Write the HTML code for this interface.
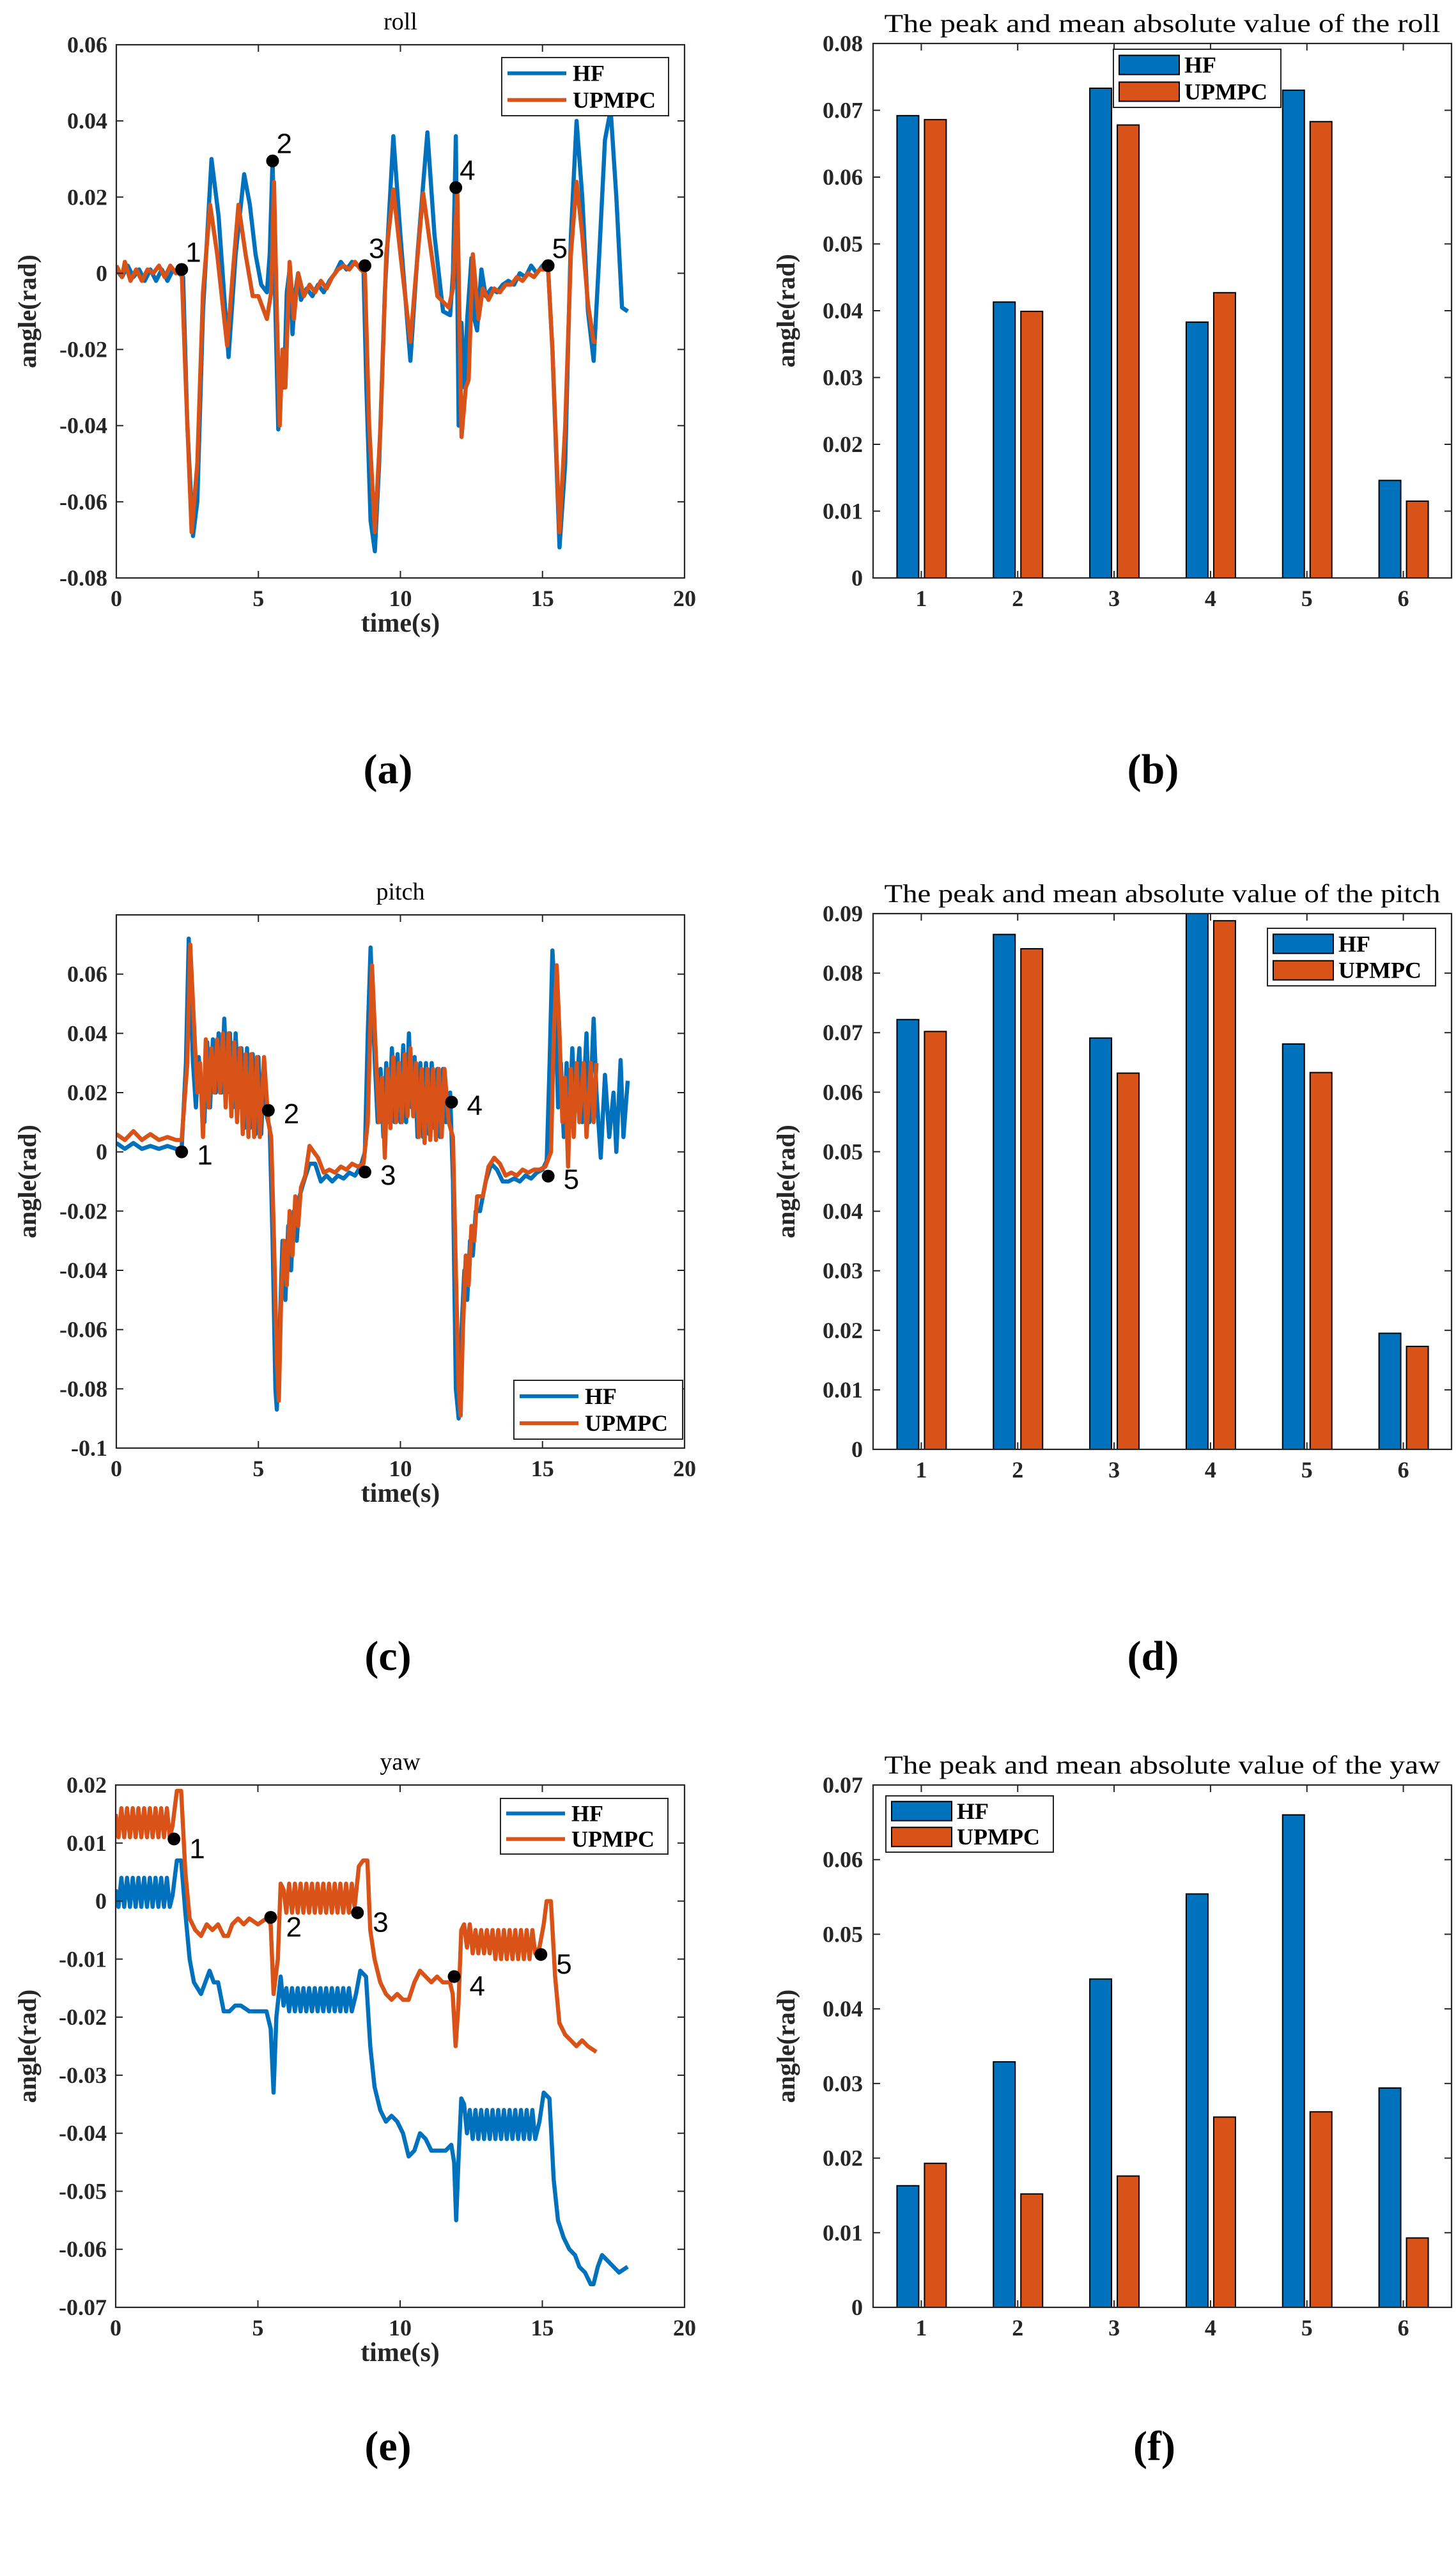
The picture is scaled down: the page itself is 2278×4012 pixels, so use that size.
<!DOCTYPE html>
<html><head><meta charset="utf-8"><style>
html,body{margin:0;padding:0;background:#fff;}
svg{display:block;}
</style></head><body>
<svg id="fig" width="2278" height="4012" viewBox="0 0 2278 4012" xmlns="http://www.w3.org/2000/svg"></svg>
<script>
// ---------- DATA ----------
const barCategories = ["1","2","3","4","5","6"];
const rollBarHF = [0.0692,0.0413,0.0733,0.0383,0.0730,0.0146];
const rollBarUP = [0.0686,0.0399,0.0678,0.0427,0.0683,0.0115];
const pitchBarHF = [0.0722,0.0865,0.0691,0.0900,0.0681,0.0195];
const pitchBarUP = [0.0702,0.0841,0.0632,0.0888,0.0633,0.0173];
const yawBarHF = [0.0163,0.0329,0.0440,0.0554,0.0660,0.0294];
const yawBarUP = [0.0193,0.0152,0.0176,0.0255,0.0262,0.0093];

const timeTicks = [0,5,10,15,20];
const rollTicks = [-0.08,-0.06,-0.04,-0.02,0,0.02,0.04,0.06];
const rollTickLabels = ["-0.08","-0.06","-0.04","-0.02","0","0.02","0.04","0.06"];
const pitchTicks = [-0.1,-0.08,-0.06,-0.04,-0.02,0,0.02,0.04,0.06];
const pitchTickLabels = ["-0.1","-0.08","-0.06","-0.04","-0.02","0","0.02","0.04","0.06"];
const yawTicks = [-0.07,-0.06,-0.05,-0.04,-0.03,-0.02,-0.01,0,0.01,0.02];
const yawTickLabels = ["-0.07","-0.06","-0.05","-0.04","-0.03","-0.02","-0.01","0","0.01","0.02"];
const rollBarTicks = [0,0.01,0.02,0.03,0.04,0.05,0.06,0.07,0.08];
const rollBarTickLabels = ["0","0.01","0.02","0.03","0.04","0.05","0.06","0.07","0.08"];
const pitchBarTicks = [0,0.01,0.02,0.03,0.04,0.05,0.06,0.07,0.08,0.09];
const pitchBarTickLabels = ["0","0.01","0.02","0.03","0.04","0.05","0.06","0.07","0.08","0.09"];
const yawBarTicks = [0,0.01,0.02,0.03,0.04,0.05,0.06,0.07];
const yawBarTickLabels = ["0","0.01","0.02","0.03","0.04","0.05","0.06","0.07"];

const rollHF = [[0,.001],[.2,-.001],[.4,.002],[.6,-.001],[.8,.001],[1,-.002],[1.2,.001],[1.4,-.002],[1.6,.001],[1.8,-.002],[2,.001],[2.2,0],[2.35,-.001],[2.5,-.04],[2.7,-.069],[2.85,-.06],[3.05,-.01],[3.35,.03],[3.6,.015],[3.95,-.022],[4.2,.005],[4.5,.026],[4.7,.018],[4.9,.005],[5.1,-.003],[5.3,-.005],[5.4,.005],[5.5,.03],[5.6,-.01],[5.7,-.041],[5.8,-.025],[5.9,-.03],[6,-.005],[6.1,.001],[6.2,-.016],[6.3,-.005],[6.4,0],[6.5,-.007],[6.7,-.004],[6.9,-.006],[7.1,-.003],[7.3,-.005],[7.5,-.002],[7.7,0],[7.9,.003],[8.1,.001],[8.3,.003],[8.5,.002],[8.7,.001],[8.8,-.03],[8.95,-.065],[9.1,-.073],[9.25,-.05],[9.45,-.005],[9.75,.036],[10,.01],[10.35,-.023],[10.6,.005],[10.95,.037],[11.2,.01],[11.5,-.01],[11.75,-.011],[11.85,0],[11.95,.036],[12.05,-.04],[12.15,-.013],[12.25,-.03],[12.35,-.012],[12.5,.004],[12.6,-.012],[12.7,-.015],[12.85,.001],[13,-.006],[13.2,-.004],[13.4,-.005],[13.6,-.003],[13.8,-.002],[14,-.003],[14.2,0],[14.4,-.001],[14.6,.002],[14.8,0],[15,.002],[15.2,.001],[15.35,-.02],[15.6,-.072],[15.8,-.05],[16,.01],[16.2,.04],[16.4,.02],[16.6,-.01],[16.8,-.023],[17,.005],[17.2,.035],[17.4,.043],[17.6,.02],[17.8,-.009],[18,-.01]];
const rollUP = [[0,.002],[.2,-.001],[.3,.003],[.5,-.002],[.7,.001],[.9,-.002],[1.1,.001],[1.3,0],[1.5,.002],[1.7,-.001],[1.9,.002],[2.1,0],[2.3,.001],[2.45,-.03],[2.65,-.068],[2.85,-.05],[3.05,-.005],[3.3,.018],[3.55,.005],[3.9,-.019],[4.1,0],[4.3,.018],[4.55,.005],[4.8,-.006],[5,-.006],[5.3,-.012],[5.45,-.005],[5.55,.024],[5.65,-.01],[5.75,-.04],[5.85,-.02],[5.95,-.03],[6.1,.003],[6.25,-.012],[6.4,0],[6.6,-.006],[6.8,-.003],[7,-.005],[7.2,-.002],[7.4,-.004],[7.6,-.001],[7.8,.001],[8,.002],[8.2,.001],[8.4,.003],[8.6,.001],[8.75,0],[8.9,-.04],[9.1,-.068],[9.3,-.04],[9.5,.005],[9.75,.022],[10,.005],[10.35,-.018],[10.55,0],[10.8,.021],[11,.01],[11.3,-.006],[11.7,-.009],[11.85,-.004],[12,.022],[12.15,-.043],[12.3,-.03],[12.4,-.028],[12.55,.005],[12.75,-.012],[12.9,-.004],[13.1,-.007],[13.3,-.004],[13.5,-.005],[13.7,-.003],[13.9,-.003],[14.1,-.001],[14.3,-.002],[14.5,0],[14.7,-.001],[14.9,.001],[15.2,.001],[15.35,-.02],[15.6,-.068],[15.8,-.04],[16,.005],[16.2,.024],[16.4,.01],[16.6,-.008],[16.8,-.018],[16.9,-.018]];
const rollMarks = [[2.3,.001],[5.5,.0295],[8.75,.002],[11.95,.0225],[15.2,.002]];

const pitchHF = [[0,.003],[.3,.001],[.6,.003],[.9,.001],[1.2,.002],[1.5,.001],[1.8,.002],[2.1,.001],[2.3,.001],[2.45,.03],[2.55,.072],[2.7,.03],[2.8,.015],[2.9,.032],[3.0,.02],[3.1,.01],[3.2,.037],[3.3,.015],[3.4,.038],[3.5,.02],[3.6,.04],[3.7,.02],[3.8,.045],[3.9,.02],[4.0,.04],[4.1,.015],[4.2,.04],[4.3,.015],[4.4,.035],[4.5,.008],[4.6,.035],[4.7,.008],[4.8,.033],[4.9,.006],[5.0,.032],[5.1,.006],[5.2,.03],[5.3,.012],[5.4,.008],[5.5,-.03],[5.6,-.08],[5.65,-.087],[5.75,-.06],[5.85,-.03],[5.95,-.05],[6.05,-.025],[6.15,-.04],[6.25,-.02],[6.35,-.03],[6.45,-.015],[6.6,-.01],[6.8,-.004],[7.0,-.004],[7.2,-.01],[7.4,-.008],[7.6,-.01],[7.8,-.008],[8.0,-.009],[8.2,-.007],[8.4,-.008],[8.6,-.005],[8.75,0],[8.85,.04],[8.95,.069],[9.1,.03],[9.2,.01],[9.3,.028],[9.4,.005],[9.5,.03],[9.6,.01],[9.7,.035],[9.8,.01],[9.9,.033],[10.0,.01],[10.1,.036],[10.2,.01],[10.3,.04],[10.4,.015],[10.5,.032],[10.6,.005],[10.7,.03],[10.8,.005],[10.9,.03],[11.0,.006],[11.1,.03],[11.2,.008],[11.3,.028],[11.4,.005],[11.5,.028],[11.6,.01],[11.75,.02],[11.85,-.01],[11.95,-.08],[12.05,-.09],[12.15,-.06],[12.25,-.04],[12.35,-.05],[12.45,-.03],[12.55,-.035],[12.65,-.02],[12.8,-.02],[13.0,-.01],[13.2,-.004],[13.4,-.006],[13.6,-.01],[13.8,-.01],[14.0,-.009],[14.2,-.01],[14.4,-.008],[14.6,-.009],[14.8,-.007],[15.0,-.006],[15.15,-.003],[15.25,.03],[15.35,.068],[15.45,.05],[15.55,.015],[15.65,.03],[15.75,.005],[15.85,.03],[15.95,.01],[16.05,.035],[16.15,.015],[16.3,.035],[16.4,.01],[16.55,.04],[16.65,.01],[16.8,.045],[16.9,.02],[17.05,-.002],[17.2,.026],[17.35,.005],[17.5,.02],[17.6,0],[17.75,.031],[17.85,.005],[18,.024]];
const pitchUP = [[0,.006],[.3,.004],[.6,.007],[.9,.004],[1.2,.006],[1.5,.004],[1.8,.005],[2.1,.004],[2.3,.004],[2.5,.03],[2.6,.07],[2.75,.04],[2.85,.02],[2.95,.03],[3.05,.005],[3.15,.038],[3.25,.015],[3.35,.035],[3.45,.02],[3.55,.038],[3.65,.02],[3.75,.04],[3.85,.015],[3.95,.04],[4.05,.012],[4.15,.037],[4.25,.01],[4.35,.035],[4.45,.006],[4.55,.033],[4.65,.005],[4.75,.033],[4.85,.005],[4.95,.032],[5.05,.005],[5.2,.032],[5.35,.01],[5.45,.005],[5.55,-.03],[5.65,-.07],[5.72,-.084],[5.8,-.05],[5.9,-.03],[6.0,-.045],[6.1,-.02],[6.2,-.035],[6.3,-.015],[6.4,-.025],[6.5,-.012],[6.65,-.008],[6.8,.002],[6.95,0],[7.1,-.002],[7.3,-.007],[7.5,-.006],[7.7,-.007],[7.9,-.005],[8.1,-.006],[8.3,-.004],[8.5,-.005],[8.7,-.004],[8.85,.01],[9.0,.063],[9.15,.03],[9.25,.01],[9.35,.025],[9.45,-.002],[9.55,.028],[9.65,.008],[9.75,.032],[9.85,.01],[9.95,.03],[10.05,.01],[10.15,.033],[10.25,.012],[10.35,.035],[10.45,.012],[10.55,.03],[10.65,.005],[10.75,.028],[10.85,.003],[10.95,.028],[11.05,.004],[11.15,.028],[11.25,.004],[11.35,.028],[11.45,.005],[11.55,.028],[11.7,.01],[11.85,.005],[11.95,-.04],[12.05,-.08],[12.12,-.089],[12.2,-.06],[12.3,-.035],[12.4,-.045],[12.5,-.025],[12.6,-.03],[12.7,-.015],[12.9,-.015],[13.1,-.005],[13.3,-.002],[13.5,-.004],[13.7,-.008],[13.9,-.007],[14.1,-.008],[14.3,-.006],[14.5,-.007],[14.7,-.006],[14.9,-.006],[15.1,-.005],[15.3,0],[15.4,.04],[15.5,.063],[15.6,.04],[15.7,.01],[15.8,.025],[15.9,-.005],[16.0,.028],[16.1,.005],[16.2,.03],[16.3,.01],[16.45,.03],[16.55,.005],[16.7,.03],[16.8,.01],[16.9,.03]];
const pitchMarks = [[2.3,0],[5.35,.014],[8.75,-.0068],[11.8,.0168],[15.2,-.0082]];

const yawHF = [[0,.002],[.1,-.001],[.2,.004],[.3,-.001],[.4,.004],[.5,-.001],[.6,.004],[.7,-.001],[.8,.004],[.9,-.001],[1.0,.004],[1.1,-.001],[1.2,.004],[1.3,-.001],[1.4,.004],[1.5,-.001],[1.6,.004],[1.7,-.001],[1.8,.004],[1.9,-.001],[2.0,.001],[2.15,.007],[2.3,.007],[2.45,-.002],[2.6,-.01],[2.75,-.014],[3.0,-.016],[3.15,-.014],[3.3,-.012],[3.45,-.014],[3.6,-.014],[3.8,-.019],[4.0,-.019],[4.2,-.018],[4.4,-.018],[4.7,-.019],[5.0,-.019],[5.3,-.019],[5.45,-.022],[5.55,-.033],[5.65,-.02],[5.8,-.013],[5.9,-.018],[6.0,-.015],[6.1,-.019],[6.2,-.015],[6.3,-.019],[6.4,-.015],[6.5,-.019],[6.6,-.015],[6.7,-.019],[6.8,-.015],[6.9,-.019],[7.0,-.015],[7.1,-.019],[7.2,-.015],[7.3,-.019],[7.4,-.015],[7.5,-.019],[7.6,-.015],[7.7,-.019],[7.8,-.015],[7.9,-.019],[8.0,-.015],[8.1,-.019],[8.2,-.015],[8.3,-.019],[8.45,-.016],[8.6,-.012],[8.8,-.013],[8.95,-.025],[9.1,-.032],[9.3,-.036],[9.5,-.038],[9.7,-.037],[9.9,-.038],[10.1,-.04],[10.3,-.044],[10.5,-.043],[10.7,-.04],[10.9,-.041],[11.1,-.043],[11.3,-.043],[11.6,-.043],[11.8,-.042],[11.9,-.045],[11.97,-.055],[12.05,-.045],[12.15,-.034],[12.25,-.035],[12.35,-.04],[12.45,-.036],[12.55,-.041],[12.65,-.036],[12.75,-.041],[12.85,-.036],[12.95,-.041],[13.05,-.036],[13.15,-.041],[13.25,-.036],[13.35,-.041],[13.45,-.036],[13.55,-.041],[13.65,-.036],[13.75,-.041],[13.85,-.036],[13.95,-.041],[14.05,-.036],[14.15,-.041],[14.25,-.036],[14.35,-.041],[14.45,-.036],[14.55,-.041],[14.65,-.036],[14.75,-.041],[14.9,-.038],[15.05,-.033],[15.25,-.034],[15.4,-.048],[15.55,-.055],[15.75,-.058],[15.95,-.06],[16.15,-.061],[16.3,-.063],[16.5,-.064],[16.7,-.066],[16.8,-.066],[16.95,-.063],[17.1,-.061],[17.3,-.062],[17.5,-.063],[17.7,-.064],[18.0,-.063]];
const yawUP = [[0,.015],[.1,.011],[.2,.016],[.3,.011],[.4,.016],[.5,.011],[.6,.016],[.7,.011],[.8,.016],[.9,.011],[1.0,.016],[1.1,.011],[1.2,.016],[1.3,.011],[1.4,.016],[1.5,.011],[1.6,.016],[1.7,.011],[1.8,.016],[1.9,.011],[2.0,.013],[2.15,.019],[2.3,.019],[2.45,.005],[2.6,-.003],[2.8,-.005],[3.0,-.006],[3.2,-.004],[3.4,-.005],[3.6,-.004],[3.8,-.006],[3.95,-.006],[4.1,-.004],[4.3,-.003],[4.5,-.004],[4.7,-.003],[5.0,-.004],[5.3,-.003],[5.45,-.004],[5.55,-.016],[5.7,-.01],[5.8,.003],[5.9,.002],[6.0,-.002],[6.1,.003],[6.2,-.002],[6.3,.003],[6.4,-.002],[6.5,.003],[6.6,-.002],[6.7,.003],[6.8,-.002],[6.9,.003],[7.0,-.002],[7.1,.003],[7.2,-.002],[7.3,.003],[7.4,-.002],[7.5,.003],[7.6,-.002],[7.7,.003],[7.8,-.002],[7.9,.003],[8.0,-.002],[8.1,.003],[8.2,-.002],[8.3,.003],[8.4,-.001],[8.55,.006],[8.7,.007],[8.85,.007],[8.95,-.005],[9.1,-.01],[9.3,-.014],[9.5,-.016],[9.7,-.017],[9.9,-.016],[10.1,-.017],[10.3,-.017],[10.5,-.014],[10.7,-.012],[10.9,-.013],[11.1,-.014],[11.3,-.013],[11.5,-.014],[11.75,-.014],[11.85,-.016],[11.95,-.025],[12.05,-.018],[12.15,-.005],[12.25,-.004],[12.35,-.008],[12.45,-.004],[12.55,-.009],[12.65,-.005],[12.75,-.009],[12.85,-.005],[12.95,-.009],[13.05,-.005],[13.15,-.009],[13.25,-.005],[13.35,-.01],[13.45,-.005],[13.55,-.01],[13.65,-.005],[13.75,-.01],[13.85,-.005],[13.95,-.01],[14.05,-.005],[14.15,-.01],[14.25,-.005],[14.35,-.01],[14.45,-.005],[14.55,-.01],[14.65,-.005],[14.75,-.009],[14.9,-.008],[15.05,-.004],[15.15,0],[15.3,0],[15.45,-.013],[15.6,-.021],[15.8,-.023],[16.0,-.024],[16.2,-.025],[16.4,-.024],[16.6,-.025],[16.9,-.026]];
const yawMarks = [[2.05,.0107],[5.45,-.0028],[8.5,-.002],[11.9,-.013],[14.95,-.0092]];

// ---------- DRAWING ----------
const NS = "http://www.w3.org/2000/svg";
const svg = document.getElementById('fig');
const BLUE = "#0072BD", ORANGE = "#D95319", AX = "#262626";
const SERIF = '"Liberation Serif", "DejaVu Serif", serif';
const SANS = '"Liberation Sans", "DejaVu Sans", sans-serif';

function mk(tag, attrs, parent) {
  const e = document.createElementNS(NS, tag);
  for (const k in attrs) e.setAttribute(k, attrs[k]);
  (parent || svg).appendChild(e);
  return e;
}
function txt(s, attrs, parent) { const e = mk('text', attrs, parent); e.textContent = s; return e; }

function axes(box, xmin, xmax, ymin, ymax) {
  const sx = v => box.l + (v - xmin) / (xmax - xmin) * (box.r - box.l);
  const sy = v => box.b - (v - ymin) / (ymax - ymin) * (box.b - box.t);
  return { sx, sy };
}

function frame(g, box, xt, xl, yt, yl, sx, sy, tickLabelX) {
  const f = mk('rect', {x: box.l, y: box.t, width: box.r - box.l, height: box.b - box.t, fill: 'none', stroke: AX, 'stroke-width': 2.2}, g);
  
  
  xt.forEach((v, i) => {
    const x = sx(v);
    mk('line', {x1: x, x2: x, y1: box.b, y2: box.b - 11, stroke: AX, 'stroke-width': 2}, g);
    mk('line', {x1: x, x2: x, y1: box.t, y2: box.t + 11, stroke: AX, 'stroke-width': 2}, g);
    const t = txt(xl[i], {x: x, y: box.b + 44, 'text-anchor': 'middle', 'font-family': SERIF, 'font-weight': 'bold', 'font-size': 36, fill: AX}, g);
    
    
  });
  yt.forEach((v, i) => {
    const y = sy(v);
    mk('line', {x1: box.l, x2: box.l + 11, y1: y, y2: y, stroke: AX, 'stroke-width': 2}, g);
    mk('line', {x1: box.r, x2: box.r - 11, y1: y, y2: y, stroke: AX, 'stroke-width': 2}, g);
    const t = txt(yl[i], {x: box.l - tickLabelX, y: y + 12, 'text-anchor': 'end', 'font-family': SERIF, 'font-weight': 'bold', 'font-size': 36, fill: AX}, g);
    
    
  });
}

function ylabel(g, x, box) {
  const cy = (box.t + box.b) / 2;
  const t = txt('angle(rad)', {x: x, y: cy, 'text-anchor': 'middle', transform: `rotate(-90 ${x} ${cy})`, 'font-family': SERIF, 'font-weight': 'bold', 'font-size': 40, fill: AX}, g);
  
  
}

function caption(s, x, y) {
  const t = txt(s, {x: x, y: y + 22, 'text-anchor': 'middle', 'font-family': SERIF, 'font-weight': 'bold', 'font-size': 66, fill: '#000'});
  
  
}

function legendLine(g, lx, ly, w, h) {
  const box = mk('rect', {x: lx, y: ly, width: w, height: h, fill: '#fff', stroke: AX, 'stroke-width': 2}, g);
  
  
  [['HF', BLUE], ['UPMPC', ORANGE]].forEach((p, i) => {
    const yy = ly + h * (i === 0 ? 0.27 : 0.73);
    mk('line', {x1: lx + 9, x2: lx + 101, y1: yy, y2: yy, stroke: p[1], 'stroke-width': 6}, g);
    const t = txt(p[0], {x: lx + 111, y: yy + 12, 'font-family': SERIF, 'font-weight': 'bold', 'font-size': 36, fill: '#000'}, g);
    
    
  });
}

function legendBar(g, lx, ly, w, h) {
  const box = mk('rect', {x: lx, y: ly, width: w, height: h, fill: '#fff', stroke: AX, 'stroke-width': 2}, g);
  
  
  [['HF', BLUE], ['UPMPC', ORANGE]].forEach((p, i) => {
    const yy = ly + h * (i === 0 ? 0.27 : 0.73);
    mk('rect', {x: lx + 9, y: yy - 15, width: 94, height: 30, fill: p[1], stroke: '#000', 'stroke-width': 2}, g);
    const t = txt(p[0], {x: lx + 111, y: yy + 12, 'font-family': SERIF, 'font-weight': 'bold', 'font-size': 36, fill: '#000'}, g);
    
    
  });
}

function linePanel(cfg) {
  const g = mk('g', {});
  
  
  const box = cfg.box;
  const {sx, sy} = axes(box, 0, 20, cfg.ymin, cfg.ymax);
  const tt = txt(cfg.title, {x: (box.l + box.r) / 2, y: box.t - 24, 'text-anchor': 'middle', 'font-family': SERIF, 'font-size': 38, fill: '#000'}, g);
  
  
  const clipId = cfg.name + '-clip';
  const cp = mk('clipPath', {id: clipId}, g);
  mk('rect', {x: box.l, y: box.t, width: box.r - box.l, height: box.b - box.t}, cp);
  [[cfg.hf, BLUE, 'hf-line'], [cfg.up, ORANGE, 'upmpc-line']].forEach(s => {
    const d = s[0].map((p, i) => (i ? 'L' : 'M') + sx(p[0]).toFixed(1) + ' ' + sy(p[1]).toFixed(1)).join(' ');
    const path = mk('path', {d: d, fill: 'none', stroke: s[1], 'stroke-width': 6.5, 'stroke-linejoin': 'round', 'clip-path': `url(#${clipId})`}, g);
    
    
  });
  cfg.marks.forEach((m, i) => {
    const c = mk('circle', {cx: sx(m[0]), cy: sy(m[1]), r: 10, fill: '#000'}, g);
    
    
    const lt = txt(String(i + 1), {x: sx(m[0]) + cfg.lblDx, y: sy(m[1]) + cfg.lblDy, 'font-family': SANS, 'font-size': 44, fill: '#000'}, g);
    
    
  });
  frame(g, box, timeTicks, timeTicks.map(String), cfg.yticks, cfg.ylabels, sx, sy, 14);
  const xl = txt('time(s)', {x: (box.l + box.r) / 2, y: box.b + 84, 'text-anchor': 'middle', 'font-family': SERIF, 'font-weight': 'bold', 'font-size': 42, fill: AX}, g);
  
  
  ylabel(g, 56, box);
  legendLine(g, cfg.leg[0], cfg.leg[1], cfg.leg[2], cfg.leg[3]);
}

function barPanel(cfg) {
  const g = mk('g', {});
  
  
  const box = cfg.box;
  const {sx, sy} = axes(box, 0.5, 6.5, 0, cfg.ymax);
  const tt = txt(cfg.title, {x: (box.l + box.r) / 2, y: box.t - 18, 'text-anchor': 'middle', 'font-family': SERIF, 'font-size': 40, fill: '#000', textLength: 870, lengthAdjust: 'spacingAndGlyphs'}, g);
  
  
  barCategories.forEach((c, i) => {
    const cx = sx(i + 1);
    const b1 = mk('rect', {x: cx - 38, y: sy(cfg.hf[i]), width: 34, height: sy(0) - sy(cfg.hf[i]), fill: BLUE, stroke: '#000', 'stroke-width': 2}, g);
    
    
    const b2 = mk('rect', {x: cx + 5, y: sy(cfg.up[i]), width: 34, height: sy(0) - sy(cfg.up[i]), fill: ORANGE, stroke: '#000', 'stroke-width': 2}, g);
    
    
  });
  frame(g, box, [1,2,3,4,5,6], barCategories, cfg.yticks, cfg.ylabels, sx, sy, 16);
  ylabel(g, 1243, box);
  legendBar(g, cfg.leg[0], cfg.leg[1], cfg.leg[2], cfg.leg[3]);
}

linePanel({name: 'roll-chart', title: 'roll', box: {l: 182, r: 1071, t: 70, b: 904}, ymin: -0.08, ymax: 0.06,
  yticks: rollTicks, ylabels: rollTickLabels, hf: rollHF, up: rollUP, marks: rollMarks, lblDx: 6, lblDy: -12, leg: [785, 90, 261, 91]});
barPanel({name: 'roll-bar-chart', title: 'The peak and mean absolute value of the roll', box: {l: 1366, r: 2271, t: 68, b: 904}, ymax: 0.08,
  yticks: rollBarTicks, ylabels: rollBarTickLabels, hf: rollBarHF, up: rollBarUP, leg: [1742, 77, 262, 91]});
caption('(a)', 607, 1203);
caption('(b)', 1804, 1203);

linePanel({name: 'pitch-chart', title: 'pitch', box: {l: 182, r: 1071, t: 1431, b: 2265}, ymin: -0.1, ymax: 0.08,
  yticks: pitchTicks, ylabels: pitchTickLabels, hf: pitchHF, up: pitchUP, marks: pitchMarks, lblDx: 24, lblDy: 20, leg: [804, 2159, 264, 92]});
barPanel({name: 'pitch-bar-chart', title: 'The peak and mean absolute value of the pitch', box: {l: 1366, r: 2271, t: 1429, b: 2267}, ymax: 0.09,
  yticks: pitchBarTicks, ylabels: pitchBarTickLabels, hf: pitchBarHF, up: pitchBarUP, leg: [1983, 1452, 263, 90]});
caption('(c)', 607, 2590);
caption('(d)', 1804, 2590);

linePanel({name: 'yaw-chart', title: 'yaw', box: {l: 181, r: 1071, t: 2792, b: 3609}, ymin: -0.07, ymax: 0.02,
  yticks: yawTicks, ylabels: yawTickLabels, hf: yawHF, up: yawUP, marks: yawMarks, lblDx: 24, lblDy: 30, leg: [783, 2813, 262, 87]});
barPanel({name: 'yaw-bar-chart', title: 'The peak and mean absolute value of the yaw', box: {l: 1366, r: 2271, t: 2792, b: 3609}, ymax: 0.07,
  yticks: yawBarTicks, ylabels: yawBarTickLabels, hf: yawBarHF, up: yawBarUP, leg: [1386, 2809, 262, 88]});
caption('(e)', 607, 3826);
caption('(f)', 1806, 3826);
</script>
</body></html>
